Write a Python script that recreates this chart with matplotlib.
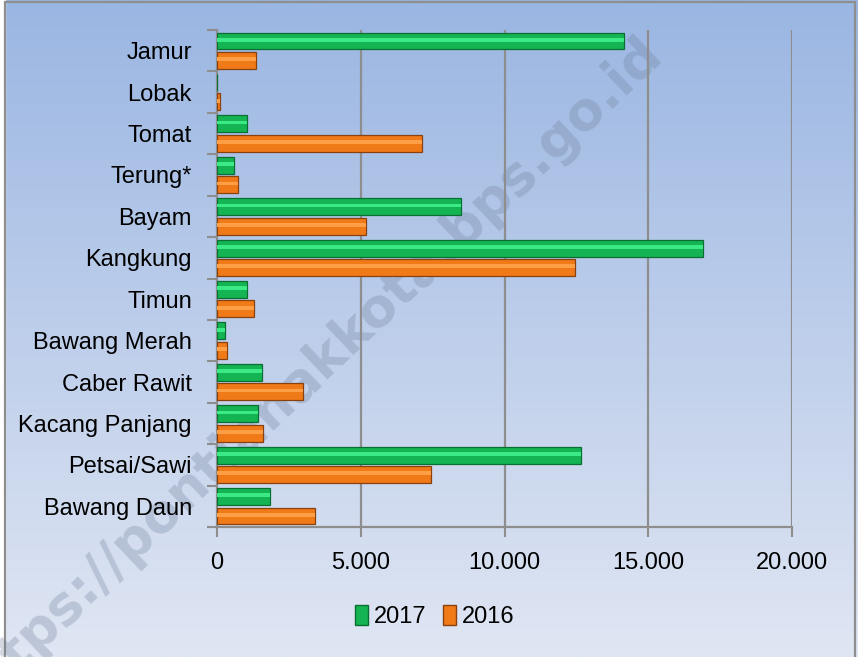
import matplotlib
matplotlib.use("Agg")
import matplotlib.pyplot as plt
import numpy as np
from matplotlib.patches import Patch, Rectangle

# Data (top to bottom)
categories = ["Jamur", "Lobak", "Tomat", "Terung*", "Bayam", "Kangkung", "Timun",
              "Bawang Merah", "Caber Rawit", "Kacang Panjang", "Petsai/Sawi",
              "Bawang Daun"]
val_2017 = [14170, 0, 1030, 580, 8480, 16920, 1050, 270, 1570, 1430, 12660, 1850]
val_2016 = [1340, 110, 7140, 720, 5180, 12440, 1300, 360, 2990, 1610, 7430, 3400]
xticks = [0, 5000, 10000, 15000, 20000]
xtick_labels = ["0", "5.000", "10.000", "15.000", "20.000"]
series_names = ["2017", "2016"]

FONT = ["Liberation Sans Narrow", "Liberation Sans", "DejaVu Sans"]
plt.rcParams["font.family"] = FONT

GREEN = "#14B452"
GREEN_LIGHT = "#3BEA86"
GREEN_DARK = "#0B6E33"
ORANGE = "#F07A18"
ORANGE_LIGHT = "#FF9F45"
ORANGE_DARK = "#8A4110"

fig = plt.figure(figsize=(8.58, 6.57), dpi=100)

# background gradient + border
bg = fig.add_axes([0, 0, 1, 1], zorder=-5)
grad = np.linspace(0, 1, 256).reshape(-1, 1)
top = np.array([154, 182, 226]) / 255
bot = np.array([224, 230, 243]) / 255
img = top + (bot - top) * grad[:, :, None] * np.ones((1, 1, 3))
bg.imshow(img, aspect="auto", extent=[0, 1, 0, 1])
bg.set_xlim(0, 1)
bg.set_ylim(0, 1)
bg.add_patch(Rectangle((0, 0), 5 / 858, 1, color="white", zorder=2))
bg.add_patch(Rectangle((5 / 858, -0.01), 850 / 858, 1 - 2 / 657 + 0.01,
                       fill=False, edgecolor="#8E8E8E", linewidth=1.6, zorder=3))
# source watermark
bg.text(0.358, 0.43, "https://pontianakkota.bps.go.id", rotation=43.5,
        fontsize=38.5, fontweight="bold", family="DejaVu Sans",
        color="#6F7F9A", alpha=0.3, ha="center", va="center", zorder=4)
bg.axis("off")

ax = fig.add_axes([0.2529, 0.1979, 0.6702, 0.7564])
ax.patch.set_alpha(0)

n = len(categories)
y = np.arange(n)[::-1].astype(float)
h = 0.41
off = 0.235

ax.barh(y + off, val_2017, height=h, color=GREEN, edgecolor=GREEN_DARK,
        linewidth=0.9, zorder=3)
ax.barh(y + off + 0.03, val_2017, height=h * 0.22, color=GREEN_LIGHT,
        linewidth=0, zorder=4)
ax.barh(y - off, val_2016, height=h, color=ORANGE, edgecolor=ORANGE_DARK,
        linewidth=0.9, zorder=3)
ax.barh(y - off + 0.03, val_2016, height=h * 0.22, color=ORANGE_LIGHT,
        linewidth=0, zorder=4)

ax.set_xlim(0, 20000)
ax.set_ylim(-0.5, n - 0.5)
ax.set_xticks(xticks)
ax.set_xticklabels(xtick_labels)
ax.set_yticks(y)
ax.set_yticklabels(categories)
ax.set_yticks(np.arange(-0.5, n, 1.0), minor=True)

ax.tick_params(axis="y", which="major", length=0, pad=18, labelsize=17)
ax.tick_params(axis="y", which="minor", length=7, width=1.5, color="#8E8E8E")
ax.tick_params(axis="x", length=7, width=1.5, color="#8E8E8E", pad=11,
               labelsize=17)

for x in xticks[1:]:
    ax.axvline(x, color="#8E8E8E", linewidth=1.6, zorder=1)

for s in ["top", "right"]:
    ax.spines[s].set_visible(False)
for s in ["left", "bottom"]:
    ax.spines[s].set_color("#8E8E8E")
    ax.spines[s].set_linewidth(1.6)

handles = [Patch(facecolor=GREEN, edgecolor=GREEN_DARK),
           Patch(facecolor=ORANGE, edgecolor=ORANGE_DARK)]
fig.legend(handles, series_names, loc="center", bbox_to_anchor=(0.507, 0.061),
           ncol=2, frameon=False, fontsize=17, handlelength=0.55,
           handleheight=0.9, handletextpad=0.25, columnspacing=0.7)

plt.savefig("out.png", dpi=100)
plt.close()
